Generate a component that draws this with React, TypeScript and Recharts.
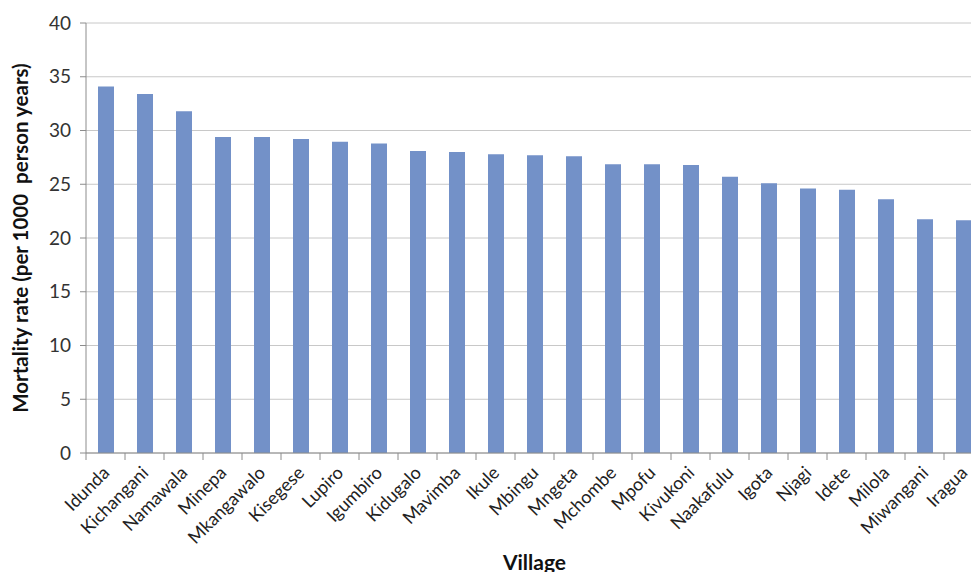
import React from "react";
import { BarChart, Bar, XAxis, YAxis, CartesianGrid } from "recharts";

const villages = [
  "Idunda", "Kichangani", "Namawala", "Minepa", "Mkangawalo", "Kisegese",
  "Lupiro", "Igumbiro", "Kidugalo", "Mavimba", "Ikule", "Mbingu", "Mngeta",
  "Mchombe", "Mpofu", "Kivukoni", "Naakafulu", "Igota", "Njagi", "Idete",
  "Milola", "Miwangani", "Iragua",
];

const mortality = [
  34.1, 33.4, 31.8, 29.4, 29.4, 29.2, 28.95, 28.8, 28.1, 28.0, 27.8, 27.7,
  27.6, 26.85, 26.85, 26.8, 25.7, 25.1, 24.6, 24.5, 23.6, 21.75, 21.65,
];

const yTicks = [0, 5, 10, 15, 20, 25, 30, 35, 40];

const data = villages.map((v, i) => ({ village: v, rate: mortality[i] }));

const FONT = "Lato, 'Open Sans', sans-serif";
const CHART_W = 1000;
const CHART_H = 572;
const MARGIN = { top: 23, right: 17, bottom: 0, left: 0 };
const Y_AXIS_W = 86;
const X_AXIS_H = 119;
const band = (CHART_W - MARGIN.left - MARGIN.right - Y_AXIS_W) / villages.length;

function VillageTick(props: any) {
  const { x, y, payload, index } = props;
  const isLast = index === villages.length - 1;
  const tx = x + 5;
  const ty = y + 21;
  return (
    <g>
      <line x1={x - band / 2} y1={y} x2={x - band / 2} y2={y + 7} stroke="#8c8c8c" />
      {isLast && <line x1={x + band / 2} y1={y} x2={x + band / 2} y2={y + 7} stroke="#8c8c8c" />}
      <text
        x={tx}
        y={ty}
        textAnchor="end"
        transform={`rotate(-45, ${tx}, ${ty})`}
        fontSize={18}
        fontFamily={FONT}
        fill="#222"
      >
        {payload.value}
      </text>
    </g>
  );
}

function YLabel(props: any) {
  const { viewBox } = props;
  const cy = viewBox.y + viewBox.height / 2;
  return (
    <text
      x={20}
      y={cy}
      transform={`rotate(-90, 20, ${cy})`}
      textAnchor="middle"
      dominantBaseline="central"
      fontSize={20.5}
      fontWeight="bold"
      fontFamily={FONT}
      fill="#111"
      style={{ whiteSpace: "pre" }}
    >
      {"Mortality rate (per 1000  person years)"}
    </text>
  );
}

function XLabel(props: any) {
  const { viewBox } = props;
  const cx = viewBox.x + viewBox.width / 2;
  return (
    <text
      x={cx}
      y={561}
      textAnchor="middle"
      dominantBaseline="central"
      fontSize={21}
      fontWeight="bold"
      fontFamily={FONT}
      fill="#111"
    >
      Village
    </text>
  );
}

export default function App() {
  return (
    <div
      style={{
        position: "absolute",
        left: 0,
        top: 0,
        width: 971,
        height: 572,
        overflow: "hidden",
        background: "#fff",
      }}
    >
      <BarChart width={CHART_W} height={CHART_H} data={data} margin={MARGIN}>
        <CartesianGrid vertical={false} stroke="#c8c8c8" />
        <XAxis
          dataKey="village"
          interval={0}
          height={X_AXIS_H}
          tickLine={false}
          tickSize={0}
          tickMargin={0}
          stroke="#8c8c8c"
          tick={<VillageTick />}
          label={<XLabel />}
        />
        <YAxis
          domain={[0, 40]}
          ticks={yTicks}
          width={Y_AXIS_W}
          tickSize={6}
          tickMargin={9}
          stroke="#8c8c8c"
          tick={{ fill: "#333", fontSize: 19, fontFamily: FONT }}
          label={<YLabel />}
        />
        <Bar dataKey="rate" fill="#7391c8" barSize={16} isAnimationActive={false} />
      </BarChart>
    </div>
  );
}
